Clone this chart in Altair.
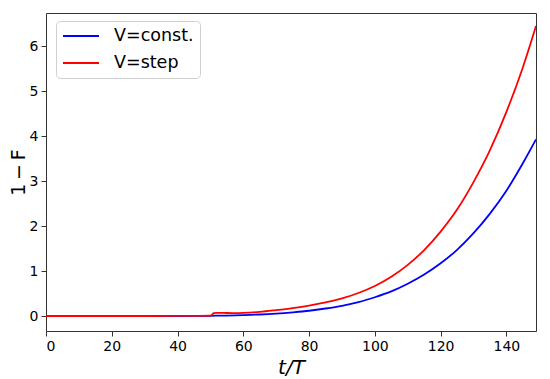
import altair as alt
import pandas as pd

# V=const. series (t/T, 1-F)
t_const = [0, 10, 20, 30, 40, 50, 55, 60, 65, 70, 75, 80, 85, 90, 95, 100,
           105, 110, 115, 120, 125, 130, 135, 140, 145, 149]
v_const = [0.0, 0.0, 0.0, 0.0005, 0.002, 0.008, 0.014, 0.024, 0.037, 0.057,
           0.085, 0.12, 0.17, 0.23, 0.31, 0.42, 0.55, 0.72, 0.925, 1.175,
           1.475, 1.845, 2.28, 2.79, 3.40, 3.93]

# V=step series
t_step = [0, 10, 20, 30, 40, 50, 50.5, 51, 52, 54, 57, 60, 65, 70, 75, 80,
          85, 90, 95, 100, 105, 110, 115, 120, 125, 130, 135, 140, 145, 149]
v_step = [0.0, 0.0, 0.0, 0.002, 0.005, 0.012, 0.03, 0.065, 0.075, 0.072,
          0.068, 0.072, 0.095, 0.135, 0.18, 0.235, 0.305, 0.395, 0.515, 0.67,
          0.875, 1.14, 1.47, 1.88, 2.37, 2.98, 3.69, 4.54, 5.53, 6.45]

labels = ["V=const.", "V=step"]
colors = ["#0000ff", "#ff0000"]
x_ticks = [0, 20, 40, 60, 80, 100, 120, 140]
y_ticks = [0, 1, 2, 3, 4, 5, 6]

rows = []
for t, v in zip(t_const, v_const):
    rows.append({"t": t, "v": v, "series": labels[0]})
for t, v in zip(t_step, v_step):
    rows.append({"t": t, "v": v, "series": labels[1]})
df = pd.DataFrame(rows)

FONT = "DejaVu Sans"

chart = alt.Chart(df).mark_line(strokeWidth=1.8, interpolate="monotone", clip=True).encode(
    x=alt.X("t:Q",
            scale=alt.Scale(domain=[0, 149], nice=False, zero=False),
            axis=alt.Axis(values=x_ticks, title="t/T", format="d",
                          titleFontStyle="italic", titleFontSize=20,
                          titleFontWeight="normal", titlePadding=4)),
    y=alt.Y("v:Q",
            scale=alt.Scale(domain=[-0.33, 6.74], nice=False, zero=False),
            axis=alt.Axis(values=y_ticks, title="1\u2009\u2212\u2009F", format="d",
                          titleFontSize=19, titleFontWeight="normal",
                          titlePadding=1)),
    color=alt.Color("series:N",
                    scale=alt.Scale(domain=labels, range=colors),
                    legend=alt.Legend(title=None, orient="none",
                                      legendX=10, legendY=8,
                                      symbolType="stroke", symbolSize=1296,
                                      symbolStrokeWidth=1.8,
                                      clipHeight=18,
                                      labelFontSize=17.5, labelFont=FONT,
                                      labelColor="#000000",
                                      labelOffset=14, rowPadding=9,
                                      padding=6, cornerRadius=4,
                                      strokeColor="#d0d0d0",
                                      fillColor="#ffffff")),
).properties(
    width=490,
    height=318,
    autosize=alt.AutoSizeParams(type="none"),
    padding={"left": 38, "top": 5, "right": 6, "bottom": 48},
).configure_view(
    stroke="#333333", strokeWidth=1
).configure_axis(
    labelFont=FONT, titleFont=FONT, labelFontSize=14, labelColor="#000000",
    titleColor="#000000", grid=False, domain=False,
    tickColor="#333333", tickSize=5, tickWidth=1, labelPadding=3
)

chart.save("out.html", embed_options={"renderer": "svg", "actions": False})
